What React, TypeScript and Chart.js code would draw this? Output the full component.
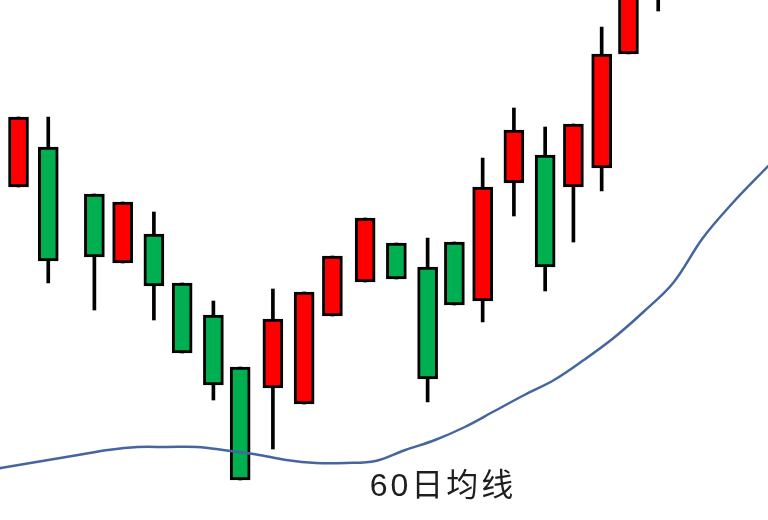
import React, { useEffect, useRef } from "react";
import { Chart, registerables } from "chart.js";

Chart.register(...registerables);

// Candle positions along the time axis (trading-day units, hand-drawn spacing)
const days = [0, 1, 2.55, 3.5, 4.55, 5.5, 6.55, 7.45, 8.55, 9.6, 10.55, 11.65, 12.7, 13.75, 14.65, 15.6, 16.65, 17.7, 18.65, 19.6, 20.5, 21.5];
const opens = [33.3, 37.3, 32.6, 25.7, 28.6, 23.7, 20.5, 15.3, 13.2, 11.6, 20.4, 23.8, 27.7, 25.3, 27.8, 21.9, 33.7, 36.5, 33.3, 35.2, 46.6, 53.5];
const closes = [40.3, 25.9, 26.3, 31.8, 23.4, 16.7, 13.5, 4.0, 20.1, 22.8, 26.4, 30.2, 24.1, 14.1, 21.5, 33.3, 39.0, 25.3, 39.6, 46.6, 57.6, 60.0];
const highs = [40.3, 40.3, 32.6, 31.8, 30.8, 23.7, 21.9, 15.3, 23.1, 22.8, 26.4, 30.2, 27.7, 28.2, 27.8, 36.2, 41.2, 39.3, 39.6, 49.3, 60.0, 62.0];
const lows = [33.3, 23.7, 21.0, 25.7, 20.0, 16.7, 12.0, 4.0, 7.1, 11.6, 20.4, 23.8, 24.1, 11.8, 21.5, 19.8, 30.4, 22.9, 27.8, 32.9, 46.6, 50.9];

// 60-day moving average
const maDays = [-1, 0, 1, 2, 3, 4, 5, 6, 7, 8, 9, 10, 11, 12, 13, 14, 15, 16, 17, 18, 19, 20, 21, 22, 23, 24, 25, 26];
const maValues = [5.0, 5.5, 6.0, 6.5, 7.0, 7.3, 7.3, 7.3, 6.95, 6.55, 6.0, 5.7, 5.7, 5.9, 7.0, 8.0, 9.3, 10.9, 12.5, 14.0, 16.0, 18.2, 20.8, 23.7, 28.2, 31.7, 34.8, 37.8];

const maLabel = "60日均线";

const UP = "#ff0000";
const DOWN = "#00b050";

export default function App() {
  const ref = useRef<HTMLCanvasElement | null>(null);

  useEffect(() => {
    if (!ref.current) return;
    const colors = opens.map((o, i) => (closes[i] >= o ? UP : DOWN));

    const labelPlugin = {
      id: "maLabel",
      afterDatasetsDraw(chart: any) {
        const { ctx } = chart;
        const xs = chart.scales.x;
        const ys = chart.scales.y;
        ctx.save();
        ctx.fillStyle = "#1e1e1e";
        ctx.font = '32px "Liberation Sans", "Noto Sans CJK SC", sans-serif';
        try { (ctx as any).letterSpacing = "3px"; } catch (e) {}
        ctx.textAlign = "center";
        ctx.textBaseline = "middle";
        ctx.fillText(maLabel, xs.getPixelForValue(14.2) + 2, ys.getPixelForValue(3.3));
        ctx.restore();
      },
    };

    const chart = new Chart(ref.current, {
      type: "bar",
      data: {
        datasets: [
          {
            type: "line",
            label: maLabel,
            data: maDays.map((d, i) => ({ x: d, y: maValues[i] })),
            borderColor: "#4565a0",
            borderWidth: 2.5,
            pointRadius: 0,
            tension: 0.35,
            fill: false,
            order: -1,
          } as any,
          {
            label: "body",
            data: days.map((d, i) => ({ x: d, y: [opens[i], closes[i]] })),
            backgroundColor: colors,
            borderColor: "#000000",
            borderWidth: 3,
            borderSkipped: false,
            barThickness: 20,
            grouped: false,
            order: 0,
          } as any,
          {
            label: "wick",
            data: days.map((d, i) => ({ x: d, y: [lows[i], highs[i]] })),
            backgroundColor: "#000000",
            borderWidth: 0,
            barThickness: 3,
            grouped: false,
            order: 1,
          } as any,
        ],
      },
      options: {
        animation: false,
        responsive: false,
        maintainAspectRatio: false,
        layout: { padding: 0 },
        plugins: {
          legend: { display: false },
          tooltip: { enabled: false },
          title: { display: false },
        },
        scales: {
          x: { type: "linear", min: -0.622, max: 25.19, display: false, offset: false },
          y: { type: "linear", min: 0, max: 52, display: false },
        },
      },
      plugins: [labelPlugin],
    });
    return () => chart.destroy();
  }, []);

  return (
    <div style={{ position: "fixed", left: 0, top: 0, width: 768, height: 520, background: "#ffffff" }}>
      <canvas ref={ref} width={768} height={520} />
    </div>
  );
}
